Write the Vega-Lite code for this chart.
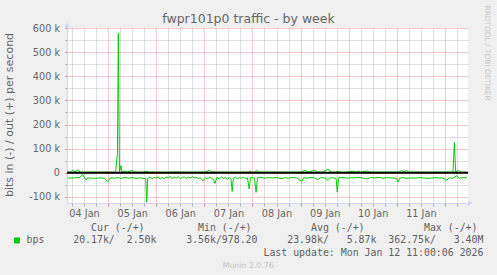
{
  "$schema": "https://vega.github.io/schema/vega-lite/v6.json",
  "width": 401,
  "height": 175,
  "autosize": "none",
  "padding": {"left": 67, "top": 28, "right": 29, "bottom": 72},
  "background": "#f0f0f0",
  "config": {"font": "DejaVu Sans", "view": {"fill": "#ffffff", "stroke": null}},
  "data": {"values": [
    {"t":"2026-01-04T04:00","d":"in","v":-21000},
    {"t":"2026-01-04T06:00","d":"in","v":-22000},
    {"t":"2026-01-04T08:00","d":"in","v":-20000},
    {"t":"2026-01-04T10:00","d":"in","v":-19000},
    {"t":"2026-01-04T11:15","d":"in","v":-6000},
    {"t":"2026-01-04T13:00","d":"in","v":-30000},
    {"t":"2026-01-04T14:00","d":"in","v":-21000},
    {"t":"2026-01-04T16:00","d":"in","v":-22000},
    {"t":"2026-01-04T18:00","d":"in","v":-23000},
    {"t":"2026-01-04T20:00","d":"in","v":-21000},
    {"t":"2026-01-04T22:00","d":"in","v":-22000},
    {"t":"2026-01-05T00:00","d":"in","v":-37000},
    {"t":"2026-01-05T01:00","d":"in","v":-21000},
    {"t":"2026-01-05T03:00","d":"in","v":-22000},
    {"t":"2026-01-05T05:00","d":"in","v":-20000},
    {"t":"2026-01-05T06:30","d":"in","v":-24000},
    {"t":"2026-01-05T08:00","d":"in","v":-19000},
    {"t":"2026-01-05T10:00","d":"in","v":-22000},
    {"t":"2026-01-05T12:00","d":"in","v":-20000},
    {"t":"2026-01-05T14:00","d":"in","v":-23000},
    {"t":"2026-01-05T16:00","d":"in","v":-21000},
    {"t":"2026-01-05T18:00","d":"in","v":-24000},
    {"t":"2026-01-05T18:45","d":"in","v":-22000},
    {"t":"2026-01-05T19:15","d":"in","v":-121000},
    {"t":"2026-01-05T19:45","d":"in","v":-24000},
    {"t":"2026-01-05T21:00","d":"in","v":-17000},
    {"t":"2026-01-05T22:00","d":"in","v":-25000},
    {"t":"2026-01-05T23:00","d":"in","v":-18000},
    {"t":"2026-01-06T00:00","d":"in","v":-22000},
    {"t":"2026-01-06T01:00","d":"in","v":-16000},
    {"t":"2026-01-06T02:00","d":"in","v":-26000},
    {"t":"2026-01-06T03:00","d":"in","v":-19000},
    {"t":"2026-01-06T04:00","d":"in","v":-24000},
    {"t":"2026-01-06T05:00","d":"in","v":-17000},
    {"t":"2026-01-06T06:00","d":"in","v":-21000},
    {"t":"2026-01-06T07:00","d":"in","v":-15000},
    {"t":"2026-01-06T08:00","d":"in","v":-25000},
    {"t":"2026-01-06T09:00","d":"in","v":-18000},
    {"t":"2026-01-06T10:00","d":"in","v":-22000},
    {"t":"2026-01-06T11:00","d":"in","v":-16000},
    {"t":"2026-01-06T12:00","d":"in","v":-24000},
    {"t":"2026-01-06T13:00","d":"in","v":-19000},
    {"t":"2026-01-06T14:00","d":"in","v":-17000},
    {"t":"2026-01-06T15:00","d":"in","v":-23000},
    {"t":"2026-01-06T16:00","d":"in","v":-18000},
    {"t":"2026-01-06T17:00","d":"in","v":-21000},
    {"t":"2026-01-06T18:00","d":"in","v":-16000},
    {"t":"2026-01-06T19:00","d":"in","v":-22000},
    {"t":"2026-01-06T20:00","d":"in","v":-19000},
    {"t":"2026-01-06T21:00","d":"in","v":-24000},
    {"t":"2026-01-06T22:00","d":"in","v":-20000},
    {"t":"2026-01-06T23:18","d":"in","v":-33000},
    {"t":"2026-01-07T00:30","d":"in","v":-20000},
    {"t":"2026-01-07T01:30","d":"in","v":-26000},
    {"t":"2026-01-07T02:30","d":"in","v":-18000},
    {"t":"2026-01-07T03:30","d":"in","v":-22000},
    {"t":"2026-01-07T04:30","d":"in","v":-27000},
    {"t":"2026-01-07T05:18","d":"in","v":-44000},
    {"t":"2026-01-07T06:15","d":"in","v":-19000},
    {"t":"2026-01-07T07:30","d":"in","v":-25000},
    {"t":"2026-01-07T08:30","d":"in","v":-17000},
    {"t":"2026-01-07T09:30","d":"in","v":-24000},
    {"t":"2026-01-07T10:30","d":"in","v":-19000},
    {"t":"2026-01-07T11:30","d":"in","v":-26000},
    {"t":"2026-01-07T12:30","d":"in","v":-20000},
    {"t":"2026-01-07T13:15","d":"in","v":-23000},
    {"t":"2026-01-07T13:54","d":"in","v":-77000},
    {"t":"2026-01-07T14:30","d":"in","v":-22000},
    {"t":"2026-01-07T15:30","d":"in","v":-18000},
    {"t":"2026-01-07T16:30","d":"in","v":-25000},
    {"t":"2026-01-07T17:30","d":"in","v":-19000},
    {"t":"2026-01-07T18:30","d":"in","v":-23000},
    {"t":"2026-01-07T19:30","d":"in","v":-18000},
    {"t":"2026-01-07T20:30","d":"in","v":-24000},
    {"t":"2026-01-07T21:30","d":"in","v":-21000},
    {"t":"2026-01-07T22:24","d":"in","v":-67000},
    {"t":"2026-01-07T23:00","d":"in","v":-20000},
    {"t":"2026-01-08T00:00","d":"in","v":-19000},
    {"t":"2026-01-08T01:00","d":"in","v":-22000},
    {"t":"2026-01-08T01:48","d":"in","v":-81000},
    {"t":"2026-01-08T02:30","d":"in","v":-21000},
    {"t":"2026-01-08T04:00","d":"in","v":-18000},
    {"t":"2026-01-08T06:00","d":"in","v":-22000},
    {"t":"2026-01-08T08:00","d":"in","v":-20000},
    {"t":"2026-01-08T10:00","d":"in","v":-21000},
    {"t":"2026-01-08T12:00","d":"in","v":-19000},
    {"t":"2026-01-08T14:36","d":"in","v":-25000},
    {"t":"2026-01-08T16:00","d":"in","v":-20000},
    {"t":"2026-01-08T18:00","d":"in","v":-22000},
    {"t":"2026-01-08T20:00","d":"in","v":-19000},
    {"t":"2026-01-08T22:00","d":"in","v":-21000},
    {"t":"2026-01-09T00:36","d":"in","v":-35000},
    {"t":"2026-01-09T01:30","d":"in","v":-20000},
    {"t":"2026-01-09T03:00","d":"in","v":-22000},
    {"t":"2026-01-09T05:00","d":"in","v":-19000},
    {"t":"2026-01-09T07:00","d":"in","v":-21000},
    {"t":"2026-01-09T08:30","d":"in","v":-28000},
    {"t":"2026-01-09T10:00","d":"in","v":-20000},
    {"t":"2026-01-09T12:00","d":"in","v":-21000},
    {"t":"2026-01-09T13:48","d":"in","v":-31000},
    {"t":"2026-01-09T15:00","d":"in","v":-20000},
    {"t":"2026-01-09T17:00","d":"in","v":-22000},
    {"t":"2026-01-09T17:45","d":"in","v":-24000},
    {"t":"2026-01-09T18:18","d":"in","v":-80000},
    {"t":"2026-01-09T19:00","d":"in","v":-21000},
    {"t":"2026-01-09T21:00","d":"in","v":-19000},
    {"t":"2026-01-09T23:00","d":"in","v":-22000},
    {"t":"2026-01-10T01:00","d":"in","v":-20000},
    {"t":"2026-01-10T03:00","d":"in","v":-21000},
    {"t":"2026-01-10T05:00","d":"in","v":-19000},
    {"t":"2026-01-10T07:00","d":"in","v":-22000},
    {"t":"2026-01-10T09:00","d":"in","v":-25000},
    {"t":"2026-01-10T11:00","d":"in","v":-20000},
    {"t":"2026-01-10T13:00","d":"in","v":-21000},
    {"t":"2026-01-10T15:00","d":"in","v":-19000},
    {"t":"2026-01-10T17:00","d":"in","v":-22000},
    {"t":"2026-01-10T19:00","d":"in","v":-20000},
    {"t":"2026-01-10T21:00","d":"in","v":-21000},
    {"t":"2026-01-10T23:00","d":"in","v":-22000},
    {"t":"2026-01-11T00:00","d":"in","v":-24000},
    {"t":"2026-01-11T00:42","d":"in","v":-38000},
    {"t":"2026-01-11T01:30","d":"in","v":-22000},
    {"t":"2026-01-11T03:00","d":"in","v":-20000},
    {"t":"2026-01-11T05:00","d":"in","v":-23000},
    {"t":"2026-01-11T07:00","d":"in","v":-21000},
    {"t":"2026-01-11T09:00","d":"in","v":-22000},
    {"t":"2026-01-11T11:00","d":"in","v":-20000},
    {"t":"2026-01-11T13:00","d":"in","v":-21000},
    {"t":"2026-01-11T15:00","d":"in","v":-23000},
    {"t":"2026-01-11T17:00","d":"in","v":-22000},
    {"t":"2026-01-11T19:00","d":"in","v":-20000},
    {"t":"2026-01-11T21:00","d":"in","v":-21000},
    {"t":"2026-01-11T23:00","d":"in","v":-22000},
    {"t":"2026-01-12T00:54","d":"in","v":-31000},
    {"t":"2026-01-12T02:00","d":"in","v":-21000},
    {"t":"2026-01-12T04:00","d":"in","v":-22000},
    {"t":"2026-01-12T05:54","d":"in","v":-12000},
    {"t":"2026-01-12T07:00","d":"in","v":-22000},
    {"t":"2026-01-12T09:00","d":"in","v":-20000},
    {"t":"2026-01-12T11:00","d":"in","v":-21000},
    {"t":"2026-01-04T04:00","d":"out","v":3000},
    {"t":"2026-01-04T05:00","d":"out","v":2500},
    {"t":"2026-01-04T06:30","d":"out","v":10000},
    {"t":"2026-01-04T07:30","d":"out","v":3000},
    {"t":"2026-01-04T09:00","d":"out","v":13000},
    {"t":"2026-01-04T10:00","d":"out","v":3000},
    {"t":"2026-01-04T12:00","d":"out","v":2500},
    {"t":"2026-01-04T14:00","d":"out","v":3000},
    {"t":"2026-01-04T16:00","d":"out","v":3000},
    {"t":"2026-01-04T18:00","d":"out","v":2500},
    {"t":"2026-01-04T20:00","d":"out","v":3000},
    {"t":"2026-01-04T22:00","d":"out","v":3000},
    {"t":"2026-01-05T00:00","d":"out","v":3000},
    {"t":"2026-01-05T02:00","d":"out","v":2500},
    {"t":"2026-01-05T03:45","d":"out","v":3000},
    {"t":"2026-01-05T04:40","d":"out","v":80000},
    {"t":"2026-01-05T05:06","d":"out","v":578000},
    {"t":"2026-01-05T05:40","d":"out","v":4000},
    {"t":"2026-01-05T06:24","d":"out","v":30000},
    {"t":"2026-01-05T07:00","d":"out","v":3000},
    {"t":"2026-01-05T08:24","d":"out","v":8000},
    {"t":"2026-01-05T09:30","d":"out","v":3000},
    {"t":"2026-01-05T11:54","d":"out","v":10000},
    {"t":"2026-01-05T13:00","d":"out","v":3000},
    {"t":"2026-01-05T15:00","d":"out","v":3000},
    {"t":"2026-01-05T17:00","d":"out","v":2500},
    {"t":"2026-01-05T19:15","d":"out","v":6000},
    {"t":"2026-01-05T20:30","d":"out","v":3000},
    {"t":"2026-01-05T22:00","d":"out","v":3000},
    {"t":"2026-01-06T00:00","d":"out","v":3000},
    {"t":"2026-01-06T02:00","d":"out","v":3000},
    {"t":"2026-01-06T04:00","d":"out","v":2500},
    {"t":"2026-01-06T06:00","d":"out","v":3000},
    {"t":"2026-01-06T08:00","d":"out","v":3000},
    {"t":"2026-01-06T10:00","d":"out","v":4000},
    {"t":"2026-01-06T12:00","d":"out","v":3000},
    {"t":"2026-01-06T14:00","d":"out","v":3000},
    {"t":"2026-01-06T16:00","d":"out","v":3000},
    {"t":"2026-01-06T18:00","d":"out","v":2500},
    {"t":"2026-01-06T20:00","d":"out","v":3000},
    {"t":"2026-01-06T22:00","d":"out","v":3000},
    {"t":"2026-01-07T00:00","d":"out","v":3000},
    {"t":"2026-01-07T02:30","d":"out","v":10000},
    {"t":"2026-01-07T04:00","d":"out","v":3000},
    {"t":"2026-01-07T06:00","d":"out","v":3000},
    {"t":"2026-01-07T08:00","d":"out","v":3000},
    {"t":"2026-01-07T10:00","d":"out","v":3000},
    {"t":"2026-01-07T12:00","d":"out","v":3000},
    {"t":"2026-01-07T14:00","d":"out","v":3000},
    {"t":"2026-01-07T16:00","d":"out","v":3000},
    {"t":"2026-01-07T18:00","d":"out","v":3000},
    {"t":"2026-01-07T20:00","d":"out","v":3000},
    {"t":"2026-01-07T22:00","d":"out","v":3000},
    {"t":"2026-01-07T22:48","d":"out","v":8000},
    {"t":"2026-01-07T23:30","d":"out","v":3000},
    {"t":"2026-01-08T01:00","d":"out","v":3000},
    {"t":"2026-01-08T02:18","d":"out","v":9000},
    {"t":"2026-01-08T03:30","d":"out","v":3000},
    {"t":"2026-01-08T06:00","d":"out","v":3000},
    {"t":"2026-01-08T09:00","d":"out","v":3000},
    {"t":"2026-01-08T12:00","d":"out","v":3000},
    {"t":"2026-01-08T15:00","d":"out","v":3000},
    {"t":"2026-01-08T18:00","d":"out","v":3000},
    {"t":"2026-01-08T21:00","d":"out","v":3000},
    {"t":"2026-01-09T00:00","d":"out","v":3000},
    {"t":"2026-01-09T02:12","d":"out","v":10000},
    {"t":"2026-01-09T04:00","d":"out","v":3000},
    {"t":"2026-01-09T06:48","d":"out","v":10000},
    {"t":"2026-01-09T08:30","d":"out","v":3000},
    {"t":"2026-01-09T11:00","d":"out","v":3000},
    {"t":"2026-01-09T13:48","d":"out","v":16000},
    {"t":"2026-01-09T15:00","d":"out","v":3000},
    {"t":"2026-01-09T17:00","d":"out","v":3000},
    {"t":"2026-01-09T18:48","d":"out","v":6000},
    {"t":"2026-01-09T20:00","d":"out","v":3000},
    {"t":"2026-01-09T23:00","d":"out","v":3000},
    {"t":"2026-01-10T02:18","d":"out","v":7000},
    {"t":"2026-01-10T03:30","d":"out","v":3000},
    {"t":"2026-01-10T04:48","d":"out","v":7000},
    {"t":"2026-01-10T06:00","d":"out","v":3000},
    {"t":"2026-01-10T09:00","d":"out","v":8000},
    {"t":"2026-01-10T10:30","d":"out","v":3000},
    {"t":"2026-01-10T13:00","d":"out","v":3000},
    {"t":"2026-01-10T16:00","d":"out","v":3000},
    {"t":"2026-01-10T19:00","d":"out","v":3000},
    {"t":"2026-01-10T22:00","d":"out","v":3000},
    {"t":"2026-01-11T01:00","d":"out","v":3000},
    {"t":"2026-01-11T02:24","d":"out","v":10000},
    {"t":"2026-01-11T03:30","d":"out","v":3000},
    {"t":"2026-01-11T04:54","d":"out","v":10000},
    {"t":"2026-01-11T06:00","d":"out","v":3000},
    {"t":"2026-01-11T09:00","d":"out","v":3000},
    {"t":"2026-01-11T12:00","d":"out","v":3000},
    {"t":"2026-01-11T15:00","d":"out","v":3000},
    {"t":"2026-01-11T18:00","d":"out","v":3000},
    {"t":"2026-01-11T21:00","d":"out","v":3000},
    {"t":"2026-01-12T00:00","d":"out","v":3000},
    {"t":"2026-01-12T02:00","d":"out","v":3000},
    {"t":"2026-01-12T04:00","d":"out","v":3000},
    {"t":"2026-01-12T04:42","d":"out","v":125000},
    {"t":"2026-01-12T05:20","d":"out","v":3000},
    {"t":"2026-01-12T06:42","d":"out","v":10000},
    {"t":"2026-01-12T08:00","d":"out","v":3000},
    {"t":"2026-01-12T10:00","d":"out","v":3000},
    {"t":"2026-01-12T11:00","d":"out","v":2500}
  ]},
  "resolve": {"axis": {"x": "independent", "y": "independent"}},
  "layer": [
    {
      "mark": {"type": "line", "strokeWidth": 1, "interpolate": "linear"},
      "encoding": {
        "x": {
          "field": "t", "type": "temporal",
          "scale": {"domain": [{"year": 2026, "month": 1, "date": 4, "hours": 3, "minutes": 30}, {"year": 2026, "month": 1, "date": 12, "hours": 11, "minutes": 30}], "nice": false},
          "axis": {
            "orient": "bottom",
            "tickCount": 100,
            "values": [
              {"year": 2026, "month": 1, "date": 4, "hours": 6}, {"year": 2026, "month": 1, "date": 4, "hours": 12}, {"year": 2026, "month": 1, "date": 4, "hours": 18},
              {"year": 2026, "month": 1, "date": 5, "hours": 0}, {"year": 2026, "month": 1, "date": 5, "hours": 6}, {"year": 2026, "month": 1, "date": 5, "hours": 12}, {"year": 2026, "month": 1, "date": 5, "hours": 18},
              {"year": 2026, "month": 1, "date": 6, "hours": 0}, {"year": 2026, "month": 1, "date": 6, "hours": 6}, {"year": 2026, "month": 1, "date": 6, "hours": 12}, {"year": 2026, "month": 1, "date": 6, "hours": 18},
              {"year": 2026, "month": 1, "date": 7, "hours": 0}, {"year": 2026, "month": 1, "date": 7, "hours": 6}, {"year": 2026, "month": 1, "date": 7, "hours": 12}, {"year": 2026, "month": 1, "date": 7, "hours": 18},
              {"year": 2026, "month": 1, "date": 8, "hours": 0}, {"year": 2026, "month": 1, "date": 8, "hours": 6}, {"year": 2026, "month": 1, "date": 8, "hours": 12}, {"year": 2026, "month": 1, "date": 8, "hours": 18},
              {"year": 2026, "month": 1, "date": 9, "hours": 0}, {"year": 2026, "month": 1, "date": 9, "hours": 6}, {"year": 2026, "month": 1, "date": 9, "hours": 12}, {"year": 2026, "month": 1, "date": 9, "hours": 18},
              {"year": 2026, "month": 1, "date": 10, "hours": 0}, {"year": 2026, "month": 1, "date": 10, "hours": 6}, {"year": 2026, "month": 1, "date": 10, "hours": 12}, {"year": 2026, "month": 1, "date": 10, "hours": 18},
              {"year": 2026, "month": 1, "date": 11, "hours": 0}, {"year": 2026, "month": 1, "date": 11, "hours": 6}, {"year": 2026, "month": 1, "date": 11, "hours": 12}, {"year": 2026, "month": 1, "date": 11, "hours": 18},
              {"year": 2026, "month": 1, "date": 12, "hours": 0}, {"year": 2026, "month": 1, "date": 12, "hours": 6}
            ],
            "labelExpr": "hours(datum.value) === 12 ? timeFormat(datum.value, '%d %b') : ''",
            "labelOverlap": false, "labelFlush": false,
            "labelFont": "DejaVu Sans", "labelFontSize": 9.7, "labelColor": "#666666", "labelPadding": 2,
            "tickSize": 3,
            "tickColor": {"condition": {"test": "hours(datum.value) === 0", "value": "#e07a7a"}, "value": "#aaaaaa"},
            "grid": true,
            "gridColor": {"condition": {"test": "hours(datum.value) === 0", "value": "#eb9595"}, "value": "#bcbcbc"},
            "gridDash": [1, 1], "gridWidth": 1,
            "domainColor": "#cfd6f8", "domainWidth": 1,
            "title": [
              "\u200b\u00a0\u00a0\u00a0Cur\u00a0(-/+)\u00a0\u00a0\u00a0\u00a0\u00a0\u00a0\u00a0\u00a0\u00a0Min\u00a0(-/+)\u00a0\u00a0\u00a0\u00a0\u00a0\u00a0\u00a0\u00a0\u00a0\u00a0Avg\u00a0(-/+)\u00a0\u00a0\u00a0\u00a0\u00a0\u00a0\u00a0\u00a0\u00a0\u00a0Max\u00a0(-/+)",
              "20.17k/\u00a0\u00a02.50k\u00a0\u00a0\u00a0\u00a0\u00a03.56k/978.20\u00a0\u00a0\u00a0\u00a0\u00a023.98k/\u00a0\u00a0\u00a05.87k\u00a0\u00a0362.75k/\u00a0\u00a0\u00a03.40M",
              "\u200b\u00a0\u00a0\u00a0\u00a0\u00a0\u00a0\u00a0\u00a0\u00a0\u00a0\u00a0\u00a0\u00a0\u00a0\u00a0\u00a0\u00a0\u00a0\u00a0\u00a0\u00a0\u00a0\u00a0\u00a0\u00a0\u00a0\u00a0\u00a0\u00a0\u00a0\u00a0\u00a0Last\u00a0update:\u00a0Mon\u00a0Jan\u00a012\u00a011:00:06\u00a02026"
            ],
            "titleFont": "DejaVu Sans Mono", "titleFontSize": 9.9, "titleFontWeight": "normal", "titleColor": "#606060",
            "titleAlign": "left", "titleBaseline": "top", "titleLineHeight": 12.3,
            "titleX": 5.7, "titleY": 19.5
          }
        },
        "y": {
          "field": "v", "type": "quantitative",
          "scale": {"domain": [-125000, 600000], "nice": false, "zero": false},
          "axis": {
            "orient": "left",
            "tickCount": 100,
            "values": [-100000, -50000, 0, 50000, 100000, 150000, 200000, 250000, 300000, 350000, 400000, 450000, 500000, 550000, 600000],
            "labelExpr": "datum.value % 100000 === 0 ? (datum.value === 0 ? '0\u00a0\u00a0' : (datum.value / 1000) + ' k') : ''",
            "labelOverlap": false, "labelFlush": false,
            "labelFont": "DejaVu Sans", "labelFontSize": 9.7, "labelColor": "#666666", "labelPadding": 5.5,
            "tickSize": 2,
            "tickColor": {"condition": {"test": "datum.value % 100000 === 0", "value": "#e07a7a"}, "value": "#aaaaaa"},
            "grid": true,
            "gridColor": {"condition": {"test": "datum.value % 100000 === 0", "value": "#eb9595"}, "value": "#bcbcbc"},
            "gridDash": [1, 1], "gridWidth": 1,
            "domainColor": "#cfd6f8", "domainWidth": 1,
            "title": "bits in (-) / out (+) per second",
            "titleFont": "DejaVu Sans", "titleFontSize": 11, "titleFontWeight": "normal", "titleColor": "#666666",
            "titleAngle": -90, "titleAlign": "center", "titleBaseline": "middle",
            "titleX": -58, "titleY": 86.5
          }
        },
        "detail": {"field": "d"},
        "color": {
          "datum": "bps",
          "scale": {"range": ["#00cc00"]},
          "legend": {
            "orient": "none", "legendX": -55, "legendY": 207.5, "title": null, "padding": 0,
            "symbolType": "square", "symbolSize": 25, "symbolOffset": 0,
            "symbolFillColor": "#00cc00", "symbolStrokeColor": "#00cc00", "symbolStrokeWidth": 1,
            "labelFont": "DejaVu Sans Mono", "labelFontSize": 9.9, "labelColor": "#606060", "labelOffset": 4.7
          }
        }
      }
    },
    {
      "data": {"values": [{}]},
      "mark": {"type": "rule", "color": "#000000", "strokeWidth": 2},
      "encoding": {"y": {"datum": 0, "type": "quantitative", "axis": null}}
    },
    {
      "data": {"values": [{}]},
      "mark": {"type": "point", "shape": "triangle-up", "filled": true, "size": 30, "color": "#cfd6f8", "opacity": 1, "clip": false},
      "encoding": {
        "x": {"datum": {"year": 2026, "month": 1, "date": 4, "hours": 3, "minutes": 30}, "type": "temporal",
          "axis": {"orient": "bottom", "domain": false, "ticks": false, "labels": false, "grid": false,
            "title": "Munin 2.0.76", "titleFont": "DejaVu Sans", "titleFontSize": 7.8, "titleFontWeight": "normal", "titleColor": "#c0c0c0",
            "titleAlign": "center", "titleBaseline": "alphabetic", "titleX": 180.7, "titleY": 64}},
        "y": {"datum": 612000, "type": "quantitative",
          "axis": {"orient": "right", "domain": false, "ticks": false, "labels": false, "grid": false,
            "title": "RRDTOOL / TOBI OETIKER", "titleFont": "DejaVu Sans", "titleFontSize": 7.4, "titleFontWeight": "normal", "titleColor": "#c4c4c4",
            "titleAngle": 90, "titleAlign": "left", "titleBaseline": "middle", "titleX": 18.2, "titleY": -23}}
      }
    },
    {
      "data": {"values": [{}]},
      "mark": {"type": "point", "shape": "triangle-right", "filled": true, "size": 30, "color": "#cfd6f8", "opacity": 1, "clip": false},
      "encoding": {
        "x": {"datum": {"year": 2026, "month": 1, "date": 12, "hours": 12, "minutes": 40}, "type": "temporal",
          "axis": {"orient": "top", "domain": false, "ticks": false, "labels": false, "grid": false,
            "title": "fwpr101p0 traffic - by week", "titleFont": "DejaVu Sans", "titleFontSize": 12.5, "titleFontWeight": "normal", "titleColor": "#666666",
            "titleAlign": "center", "titleBaseline": "alphabetic", "titleX": 181, "titleY": -5.5}},
        "y": {"datum": -125000, "type": "quantitative", "axis": null}
      }
    }
  ]
}
